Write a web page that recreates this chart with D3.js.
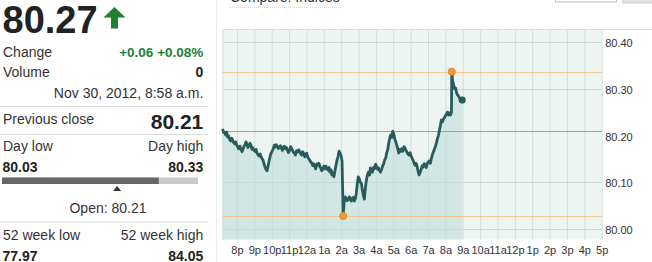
<!DOCTYPE html>
<html>
<head>
<meta charset="utf-8">
<script src="https://cdn.jsdelivr.net/npm/d3@7"></script>
<style>
body { margin: 0; background: #fff; overflow: hidden; }
svg { display: block; font-family: "Liberation Sans", Arial, sans-serif; }
</style>
</head>
<body>
<div id="chart"></div>
<script>
// intraday quotes (evening of Nov 29 to morning of Nov 30)
var times = ["19:10","19:14","19:17","19:21","19:24","19:28","19:31","19:35","19:38","19:42",
  "19:45","19:49","19:52","19:56","19:59","20:03","20:06","20:10","20:13","20:17",
  "20:20","20:24","20:27","20:31","20:34","20:38","20:41","20:45","20:48","20:52",
  "20:55","20:59","21:02","21:06","21:09","21:13","21:16","21:20","21:23","21:27",
  "21:30","21:34","21:37","21:41","21:44","21:48","21:51","21:55","21:58","22:02",
  "22:05","22:09","22:12","22:16","22:19","22:23","22:26","22:30","22:33","22:37",
  "22:40","22:44","22:47","22:51","22:54","22:58","23:01","23:05","23:08","23:12",
  "23:15","23:19","23:22","23:26","23:29","23:33","23:36","23:40","23:43","23:47",
  "23:50","23:54","23:57","00:01","00:04","00:08","00:11","00:15","00:18","00:22",
  "00:25","00:29","00:32","00:36","00:39","00:43","00:46","00:50","00:53","00:57",
  "01:00","01:04","01:07","01:11","01:14","01:18","01:21","01:25","01:28","01:32",
  "01:35","01:39","01:42","01:46","01:49","01:53","01:56","02:00","02:03","02:07",
  "02:10","02:14","02:17","02:21","02:24","02:28","02:31","02:35","02:38","02:42",
  "02:45","02:49","02:52","02:56","02:59","03:03","03:06","03:10","03:13","03:17",
  "03:20","03:24","03:27","03:31","03:34","03:38","03:41","03:45","03:48","03:52",
  "03:55","03:59","04:02","04:06","04:09","04:13","04:16","04:20","04:23","04:27",
  "04:30","04:34","04:37","04:41","04:44","04:48","04:51","04:55","04:58","05:02",
  "05:05","05:09","05:12","05:16","05:19","05:23","05:26","05:30","05:33","05:37",
  "05:40","05:44","05:47","05:51","05:54","05:58","06:01","06:05","06:08","06:12",
  "06:15","06:19","06:22","06:26","06:29","06:33","06:36","06:40","06:43","06:47",
  "06:50","06:54","06:57","07:01","07:04","07:08","07:11","07:15","07:18","07:22",
  "07:25","07:29","07:32","07:36","07:39","07:43","07:46","07:50","07:53","07:57",
  "08:00","08:04","08:07","08:11","08:14","08:18","08:21","08:22","08:25","08:28",
  "08:32","08:35","08:39","08:42","08:46","08:49","08:53","08:56","08:58"];
var prices = [80.214,80.206,80.207,80.201,80.207,80.196,80.199,80.191,80.188,80.194,
  80.190,80.184,80.182,80.186,80.179,80.175,80.171,80.177,80.173,80.165,
  80.169,80.176,80.179,80.186,80.182,80.174,80.177,80.183,80.179,80.170,
  80.173,80.168,80.166,80.170,80.162,80.158,80.156,80.160,80.154,80.150,
  80.147,80.138,80.132,80.126,80.124,80.136,80.145,80.156,80.162,80.167,
  80.171,80.179,80.175,80.180,80.177,80.172,80.175,80.178,80.173,80.168,
  80.175,80.177,80.171,80.174,80.169,80.163,80.166,80.176,80.173,80.168,
  80.164,80.161,80.158,80.167,80.164,80.169,80.166,80.161,80.158,80.165,
  80.162,80.154,80.158,80.162,80.154,80.150,80.147,80.143,80.141,80.135,
  80.139,80.133,80.128,80.139,80.136,80.140,80.134,80.129,80.124,80.130,
  80.134,80.128,80.134,80.130,80.126,80.131,80.121,80.126,80.115,80.120,
  80.111,80.125,80.136,80.148,80.154,80.166,80.162,80.156,80.145,80.027,
  80.055,80.068,80.066,80.060,80.061,80.068,80.066,80.059,80.063,80.067,
  80.059,80.064,80.074,80.098,80.111,80.106,80.100,80.096,80.083,80.070,
  80.063,80.089,80.104,80.116,80.121,80.115,80.130,80.126,80.121,80.131,
  80.128,80.138,80.134,80.127,80.130,80.124,80.121,80.128,80.134,80.139,
  80.147,80.152,80.162,80.170,80.182,80.195,80.201,80.196,80.209,80.203,
  80.192,80.186,80.179,80.170,80.162,80.170,80.166,80.172,80.166,80.176,
  80.173,80.168,80.164,80.160,80.158,80.163,80.156,80.151,80.147,80.140,
  80.136,80.140,80.134,80.122,80.115,80.121,80.126,80.135,80.132,80.139,
  80.136,80.131,80.139,80.143,80.145,80.140,80.149,80.158,80.164,80.170,
  80.175,80.184,80.192,80.200,80.209,80.222,80.233,80.229,80.235,80.238,
  80.242,80.246,80.250,80.244,80.248,80.244,80.250,80.337,80.318,80.310,
  80.300,80.302,80.291,80.287,80.284,80.280,80.279,80.274,80.276];

var hourLabels = ["8p","9p","10p","11p","12a","1a","2a","3a","4a","5a","6a","7a",
  "8a","9a","10a","11a","12p","1p","2p","3p","4p","5p"];
var priceTicks = [80.00, 80.10, 80.20, 80.30, 80.40];
var gridPrices = [80.00, 80.10, 80.30, 80.40];
var prevClose = 80.21;

// quote panel texts
var lastPrice = "80.27";
var changeText = "+0.06 +0.08%";
var volumeText = "0";
var stampText = "Nov 30, 2012, 8:58 a.m.";
var dayRange = [80.03, 80.33], openPrice = 80.21, curPrice = 80.27;
var weekRange = ["77.97", "84.05"];

var W = 652, H = 262;
var svg = d3.select("#chart").append("svg").attr("width", W).attr("height", H);

function parseT(s) {
  var p = s.split(":"), h = +p[0], m = +p[1];
  return h >= 19 ? new Date(2012, 10, 29, h, m) : new Date(2012, 10, 30, h, m);
}
var data = times.map(function(t, i) { return {t: parseT(t), v: prices[i]}; });

var pL = 222.5, pR = 601.7, pT = 29.5, pB = 239.5;
var x = d3.scaleTime()
    .domain([new Date(2012, 10, 29, 19, 10), new Date(2012, 10, 30, 17, 0)])
    .range([pL, pR]);
var y = d3.scaleLinear().domain([79.9764, 80.4275]).range([pB, pT]);
var hourTicks = d3.timeHour.range(new Date(2012, 10, 29, 20), new Date(2012, 10, 30, 17, 1));

// ---- top bits (mostly cut off) ----
svg.append("text").attr("x", 230).attr("y", 2).attr("font-size", 14).attr("fill", "#333")
  .text("Compare: Indices");
svg.append("line").attr("x1", 230).attr("x2", 340).attr("y1", 7.5).attr("y2", 7.5)
  .attr("stroke", "#d6d6d6").attr("stroke-dasharray", "1,1");
svg.append("rect").attr("x", 555.5).attr("y", -10).attr("width", 61).attr("height", 12)
  .attr("fill", "#fff").attr("stroke", "#bbb");
svg.append("rect").attr("x", 623).attr("y", -10).attr("width", 40).attr("height", 13)
  .attr("fill", "#e2e2e2").attr("stroke", "#c8c8c8");

// ---- plot ----
var g = svg.append("g");
g.append("rect").attr("x", pL).attr("y", pT).attr("width", pR - pL).attr("height", pB - pT)
  .attr("fill", "#eef4f1");
svg.append("line").attr("x1", pL).attr("x2", W).attr("y1", pT).attr("y2", pT)
  .attr("stroke", "#dcdfdd");

g.append("g")
    .attr("transform", "translate(0," + pB + ")")
    .call(d3.axisBottom(x).tickValues(hourTicks).tickSize(-(pB - pT)).tickFormat(""))
    .call(function(a) {
      a.select(".domain").remove();
      a.selectAll("line").attr("stroke", "#d5dfda");
    });
g.append("line").attr("x1", pL + 0.5).attr("x2", pL + 0.5).attr("y1", pT).attr("y2", pB)
  .attr("stroke", "#d5dfda");

g.selectAll(".hgrid").data(gridPrices).enter().append("line")
    .attr("class", "hgrid")
    .attr("x1", pL).attr("x2", pR)
    .attr("y1", function(d) { return Math.round(y(d)) + 0.5; })
    .attr("y2", function(d) { return Math.round(y(d)) + 0.5; })
    .attr("stroke", "#d0d9d5");

var area = d3.area()
    .x(function(d) { return x(d.t); })
    .y0(pB)
    .y1(function(d) { return y(d.v); });
g.append("path").datum(data).attr("d", area)
  .attr("fill", "#b9dcd7").attr("fill-opacity", 0.55);

// previous close
g.append("line").attr("x1", pL).attr("x2", pR)
  .attr("y1", Math.round(y(prevClose)) + 0.5).attr("y2", Math.round(y(prevClose)) + 0.5)
  .attr("stroke", "#9a9e9c");

// day high / low
var hi = d3.max(data, function(d) { return d.v; }),
    lo = d3.min(data, function(d) { return d.v; });
[hi, lo].forEach(function(v) {
  g.append("line").attr("x1", pL).attr("x2", pR)
    .attr("y1", Math.round(y(v)) + 0.5).attr("y2", Math.round(y(v)) + 0.5)
    .attr("stroke", "#f2c48e");
});

var line = d3.line()
    .x(function(d) { return x(d.t); })
    .y(function(d) { return y(d.v); });
g.append("path").datum(data).attr("d", line)
  .attr("fill", "none").attr("stroke", "#285c5b").attr("stroke-width", 2.8)
  .attr("stroke-linejoin", "round");

var hiPt = data.find(function(d) { return d.v === hi; }),
    loPt = data.find(function(d) { return d.v === lo; }),
    endPt = data[data.length - 1];
[hiPt, loPt].forEach(function(d) {
  g.append("circle").attr("cx", x(d.t)).attr("cy", y(d.v)).attr("r", 3.6)
    .attr("fill", "#ef9a34").attr("stroke", "#d9822a").attr("stroke-width", 0.8);
});
g.append("circle").attr("cx", x(endPt.t)).attr("cy", y(endPt.v)).attr("r", 3.6)
  .attr("fill", "#285c5b");

// axes labels
svg.append("g")
    .attr("transform", "translate(0," + pB + ")")
    .call(d3.axisBottom(x).tickValues(hourTicks).tickSize(0).tickPadding(7)
      .tickFormat(function(d, i) { return hourLabels[i]; }))
    .call(function(a) {
      a.select(".domain").remove();
      a.selectAll("text").attr("fill", "#333").attr("font-size", 11)
        .attr("font-family", "Liberation Sans, Arial, sans-serif");
    });
svg.append("g")
    .attr("transform", "translate(" + pR + ",0)")
    .call(d3.axisRight(y).tickValues(priceTicks).tickSize(0).tickPadding(3.5)
      .tickFormat(d3.format(".2f")))
    .call(function(a) {
      a.select(".domain").remove();
      a.selectAll("text").attr("fill", "#333").attr("font-size", 11).attr("dy", "0.42em")
        .attr("font-family", "Liberation Sans, Arial, sans-serif");
    });

// ---- quote panel ----
var p = svg.append("g").attr("fill", "#333").attr("font-size", 14);
var RX = 203.3;
svg.append("line").attr("x1", 216.5).attr("x2", 216.5).attr("y1", 0).attr("y2", H).attr("stroke", "#ececec");

p.append("text").attr("x", 2.5).attr("y", 33).attr("font-size", 38).attr("font-weight", "bold")
  .attr("fill", "#222").text(lastPrice);
p.append("path").attr("d", "M103.5,17.5L114.5,7L125.5,17.5L118,17.5L118,28.5L111,28.5L111,17.5Z")
  .attr("fill", "#1f7f34");

p.append("text").attr("x", 3).attr("y", 57).text("Change");
p.append("text").attr("x", RX).attr("y", 57).attr("text-anchor", "end").attr("font-weight", "bold")
  .attr("font-size", 13.5).attr("fill", "#1f7f34").text(changeText);
p.append("text").attr("x", 3).attr("y", 77).text("Volume");
p.append("text").attr("x", RX).attr("y", 77).attr("text-anchor", "end").attr("font-weight", "bold")
  .attr("fill", "#222").text(volumeText);
p.append("text").attr("x", RX).attr("y", 97.5).attr("text-anchor", "end").text(stampText);

[106, 134, 221.5].forEach(function(yy) {
  p.append("line").attr("x1", 0).attr("x2", 208).attr("y1", yy + 0.5).attr("y2", yy + 0.5)
    .attr("stroke", "#dcdcdc");
});

p.append("text").attr("x", 3).attr("y", 123.5).text("Previous close");
p.append("text").attr("x", RX).attr("y", 129).attr("text-anchor", "end").attr("font-weight", "bold")
  .attr("font-size", 21).attr("fill", "#222").text(d3.format(".2f")(prevClose));

p.append("text").attr("x", 3).attr("y", 151).text("Day low");
p.append("text").attr("x", RX).attr("y", 151).attr("text-anchor", "end").text("Day high");
p.append("text").attr("x", 2.5).attr("y", 171.5).attr("font-weight", "bold").attr("fill", "#222")
  .text(d3.format(".2f")(dayRange[0]));
p.append("text").attr("x", RX).attr("y", 171.5).attr("text-anchor", "end").attr("font-weight", "bold")
  .attr("fill", "#222").text(d3.format(".2f")(dayRange[1]));

var bx = d3.scaleLinear().domain(dayRange).range([2, 198]);
p.append("rect").attr("x", bx(dayRange[0])).attr("y", 177.5).attr("width", bx(dayRange[1]) - bx(dayRange[0]))
  .attr("height", 6.5).attr("fill", "#c9c9c9");
p.append("rect").attr("x", bx(dayRange[0])).attr("y", 177.5).attr("width", bx(curPrice) - bx(dayRange[0]))
  .attr("height", 6.5).attr("fill", "#666");
var ox = bx(openPrice) - 2.5;
p.append("path").attr("d", "M" + (ox - 4) + ",191L" + ox + ",186L" + (ox + 4) + ",191Z").attr("fill", "#333");
p.append("text").attr("x", 108).attr("y", 213).attr("text-anchor", "middle")
  .text("Open: " + d3.format(".2f")(openPrice));

p.append("text").attr("x", 3).attr("y", 240).text("52 week low");
p.append("text").attr("x", RX).attr("y", 240).attr("text-anchor", "end").text("52 week high");
p.append("text").attr("x", 2.5).attr("y", 260.5).attr("font-weight", "bold").attr("fill", "#222")
  .text(weekRange[0]);
p.append("text").attr("x", RX).attr("y", 260.5).attr("text-anchor", "end").attr("font-weight", "bold")
  .attr("fill", "#222").text(weekRange[1]);
</script>
</body>
</html>
